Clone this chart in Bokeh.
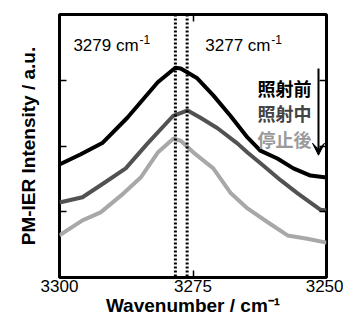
from bokeh.plotting import figure
from bokeh.models import (Range1d, FixedTicker, LinearAxis, Span, Arrow, VeeHead,
                          CustomJSTickFormatter)
from bokeh.core.properties import value
from bokeh.embed import file_html
from bokeh.resources import INLINE

# ---- data ----
wn_before = [3300.0, 3296.1, 3291.9, 3287.3, 3281.6, 3278.3, 3277.3, 3274.2, 3271.2,
             3268.0, 3264.8, 3262.4, 3259.2, 3256.2, 3253.0, 3250.0]
int_before = [1.72, 1.87, 2.05, 2.43, 2.97, 3.19, 3.18, 3.03, 2.77,
              2.46, 2.13, 1.93, 1.81, 1.66, 1.55, 1.52]

wn_during = [3300.0, 3295.7, 3291.8, 3287.6, 3283.5, 3278.7, 3276.0, 3273.6, 3270.4,
             3266.7, 3264.8, 3261.8, 3258.6, 3255.4, 3253.0, 3251.1, 3250.0]
int_during = [1.14, 1.22, 1.43, 1.66, 2.04, 2.46, 2.54, 2.43, 2.27,
              2.04, 1.90, 1.70, 1.48, 1.28, 1.14, 1.03, 1.02]

wn_after = [3300.0, 3295.7, 3292.3, 3288.0, 3284.8, 3281.6, 3278.7, 3277.3, 3274.9,
            3271.2, 3268.0, 3264.8, 3261.0, 3257.3, 3253.6, 3250.0]
int_after = [0.64, 0.87, 0.99, 1.28, 1.52, 1.90, 2.11, 2.08, 1.90,
             1.66, 1.29, 1.05, 0.84, 0.64, 0.59, 0.53]

peak_positions = [3278.3, 3276.1]
peak_labels = ["3279 cm", "3277 cm"]
peak_sup = ["-1", "-1"]
legend_labels = ["照射前", "照射中", "停止後"]
x_ticks = [3300, 3275, 3250]
y_ticks = [1, 2, 3]

# ---- styling ----
FONT = "Liberation Sans"
CJK = "Noto Sans CJK JP"
colors = ["#000000", "#525252", "#a8a8a8"]
legend_colors = ["#000000", "#444444", "#9a9a9a"]

p = figure(width=343, height=324, x_range=Range1d(3300, 3250), y_range=Range1d(0, 4),
           output_backend="svg", toolbar_location=None,
           min_border_left=59, min_border_right=17, min_border_top=14, min_border_bottom=47,
           background_fill_color="white", border_fill_color="white")
p.outline_line_color = "black"
p.outline_line_width = 3
p.grid.visible = False

empty = CustomJSTickFormatter(code="return ''")

xa = p.xaxis[0]
xa.ticker = FixedTicker(ticks=x_ticks, minor_ticks=[])
xa.major_tick_in = 7
xa.major_tick_out = 0
xa.minor_tick_in = 0
xa.minor_tick_out = 0
xa.major_tick_line_width = 1.5
xa.axis_line_color = None
xa.major_label_text_font = FONT
xa.major_label_text_font_size = "17px"
xa.major_label_text_color = "black"
xa.major_label_standoff = 2
xa.axis_label = "Wavenumber / cm⁻¹"
xa.axis_label_text_font = FONT
xa.axis_label_text_font_style = "bold"
xa.axis_label_text_font_size = "19px"
xa.axis_label_text_color = "black"
xa.axis_label_standoff = 0

ya = p.yaxis[0]
ya.ticker = FixedTicker(ticks=y_ticks, minor_ticks=[])
ya.major_tick_in = 7
ya.major_tick_out = 0
ya.minor_tick_in = 0
ya.minor_tick_out = 0
ya.major_tick_line_width = 1.5
ya.axis_line_color = None
ya.formatter = empty
ya.major_label_text_font_size = "0px"
ya.major_label_standoff = 0
ya.axis_label = "PM-IER Intensity / a.u."
ya.axis_label_text_font = FONT
ya.axis_label_text_font_style = "bold"
ya.axis_label_text_font_size = "19px"
ya.axis_label_text_color = "black"
ya.axis_label_standoff = 21

top = LinearAxis(ticker=FixedTicker(ticks=x_ticks, minor_ticks=[]), formatter=empty,
                 major_tick_in=7, major_tick_out=0, minor_tick_in=0, minor_tick_out=0,
                 major_tick_line_width=1.5, axis_line_color=None,
                 major_label_text_font_size="0px", major_label_standoff=0)
p.add_layout(top, "above")
right = LinearAxis(ticker=FixedTicker(ticks=y_ticks, minor_ticks=[]), formatter=empty,
                   major_tick_in=7, major_tick_out=0, minor_tick_in=0, minor_tick_out=0,
                   major_tick_line_width=1.5, axis_line_color=None,
                   major_label_text_font_size="0px", major_label_standoff=0)
p.add_layout(right, "right")

# curves
for wn, inten, c in [(wn_before, int_before, colors[0]),
                     (wn_during, int_during, colors[1]),
                     (wn_after, int_after, colors[2])]:
    p.line(wn, inten, line_color=c, line_width=4, line_join="round")

# dotted peak markers
for pos in peak_positions:
    p.add_layout(Span(location=pos, dimension="height", line_color="black",
                      line_width=3, line_dash="2 2"))

# peak labels
lab_x = [3297.4, 3272.7]
lab_y = [3.53, 3.53]
p.text(x=lab_x, y=lab_y, text=peak_labels, text_font=value(FONT), text_font_size="17px",
       text_color="black", text_align="left", text_baseline="alphabetic")
p.text(x=lab_x, y=lab_y, text=peak_sup, text_font=value(FONT), text_font_size="12px",
       text_color="black", text_align="left", text_baseline="alphabetic",
       x_offset=66, y_offset=-6)

# legend-like labels
p.text(x=[3262.9] * 3, y=[2.88, 2.50, 2.11], text=legend_labels, text_font=value(CJK),
       text_font_size="18px", text_font_style="bold", text_color=legend_colors,
       text_align="left", text_baseline="middle")

p.add_layout(Arrow(end=VeeHead(size=12, fill_color="black", line_color="black", line_width=1),
                   x_start=3251.5, y_start=3.18, x_end=3251.5, y_end=1.86,
                   line_color="black", line_width=2))

open("out.html", "w").write(file_html(p, INLINE))
